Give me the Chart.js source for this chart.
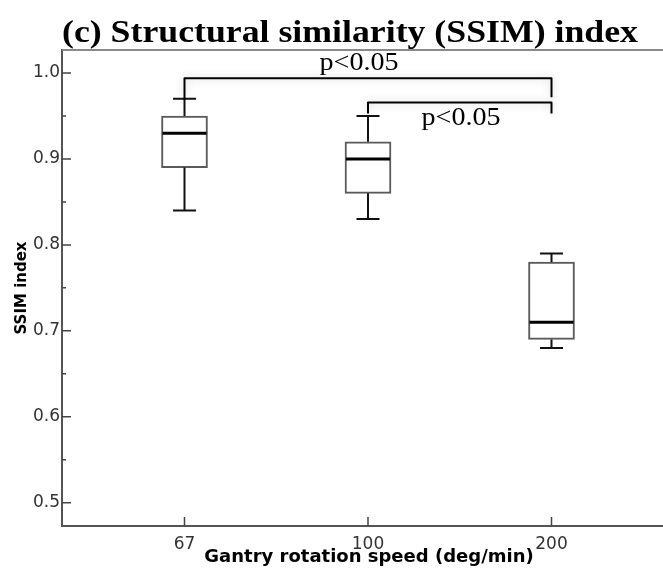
<!DOCTYPE html>
<html><head><meta charset="utf-8">
<script src="https://cdn.jsdelivr.net/npm/chart.js@4.4.1/dist/chart.umd.min.js"></script>
<style>html,body{margin:0;padding:0;background:#fff;overflow:hidden;}#wrap{width:663px;height:570px;overflow:hidden;}</style>
</head><body><div id="wrap"><canvas id="c" width="676" height="570"></canvas></div>
<script>
// ---- data ----
const categories = ['67', '100', '200'];
const whiskerHigh = [0.97, 0.95, 0.79];
const q3 = [0.95, 0.92, 0.78];
const medians = [0.93, 0.90, 0.71];
const q1 = [0.89, 0.86, 0.69];
const whiskerLow = [0.84, 0.83, 0.68];
const yTickValues = [0.5, 0.6, 0.7, 0.8, 0.9, 1.0];
const comparisonFrom = [0, 1];
const comparisonTo = [2, 2];
const comparisonLabels = ['p<0.05', 'p<0.05'];
const titleText = '(c) Structural similarity (SSIM) index';
const xTitle = 'Gantry rotation speed (deg/min)';
const yTitle = 'SSIM index';

// ---- annotation placement (axis units) ----
const bracketLevel = [0.9938, 0.9657];
const bracketDropFrom = [0.969, 0.953];
const bracketDropTo = [0.9717, 0.953];
const labelAtX = [0.951, 1.507];
const labelAtY = [1.0035, 0.9395];

const framePlugin = {
  id: 'frame',
  afterDraw(chart) {
    const {ctx, chartArea: a, scales: {x, y}} = chart;
    ctx.save();
    ctx.strokeStyle = '#8a8a8a'; ctx.lineWidth = 2;
    ctx.beginPath(); ctx.moveTo(a.left, a.top); ctx.lineTo(a.right, a.top); ctx.stroke();
    ctx.strokeStyle = '#444'; ctx.lineWidth = 1.5;
    ctx.beginPath();
    yTickValues.forEach(v => { const p = y.getPixelForValue(v); ctx.moveTo(a.left, p); ctx.lineTo(a.left + 9, p); });
    for (let i = 0; i < yTickValues.length - 1; i++) {
      const p = y.getPixelForValue((yTickValues[i] + yTickValues[i + 1]) / 2);
      ctx.moveTo(a.left, p); ctx.lineTo(a.left + 4, p);
    }
    categories.forEach((c, i) => { const p = x.getPixelForValue(i); ctx.moveTo(p, a.bottom); ctx.lineTo(p, a.bottom - 9); });
    ctx.stroke();
    ctx.fillStyle = '#000';
    ctx.font = 'bold 31px "Liberation Serif"';
    ctx.textBaseline = 'alphabetic'; ctx.textAlign = 'left';
    const w = ctx.measureText(titleText).width;
    const sx = 576 / w;
    ctx.translate(62, 42); ctx.scale(sx, 1);
    ctx.fillText(titleText, 0, 0);
    ctx.restore();
  }
};

const boxPlugin = {
  id: 'boxWhiskers',
  afterDatasetsDraw(chart) {
    const {ctx, scales: {x, y}} = chart;
    ctx.save();
    categories.forEach((c, i) => {
      const cx = x.getPixelForValue(i);
      const cap = 11.5, half = 22;
      ctx.strokeStyle = '#111'; ctx.lineWidth = 2;
      ctx.beginPath();
      ctx.moveTo(cx, y.getPixelForValue(q3[i])); ctx.lineTo(cx, y.getPixelForValue(whiskerHigh[i]));
      ctx.moveTo(cx - cap, y.getPixelForValue(whiskerHigh[i])); ctx.lineTo(cx + cap, y.getPixelForValue(whiskerHigh[i]));
      ctx.moveTo(cx, y.getPixelForValue(q1[i])); ctx.lineTo(cx, y.getPixelForValue(whiskerLow[i]));
      ctx.moveTo(cx - cap, y.getPixelForValue(whiskerLow[i])); ctx.lineTo(cx + cap, y.getPixelForValue(whiskerLow[i]));
      ctx.stroke();
      ctx.lineWidth = 3; ctx.strokeStyle = '#000';
      ctx.beginPath();
      ctx.moveTo(cx - half, y.getPixelForValue(medians[i])); ctx.lineTo(cx + half, y.getPixelForValue(medians[i]));
      ctx.stroke();
    });
    ctx.restore();
  }
};

const bracketPlugin = {
  id: 'brackets',
  afterDraw(chart) {
    const {ctx, scales: {x, y}} = chart;
    ctx.save();
    comparisonFrom.forEach((f, k) => {
      const x1 = x.getPixelForValue(f), x2 = x.getPixelForValue(comparisonTo[k]);
      const yl = y.getPixelForValue(bracketLevel[k]);
      ctx.shadowColor = 'rgba(0,0,0,0.22)'; ctx.shadowBlur = 8;
      ctx.strokeStyle = '#000'; ctx.lineWidth = 2; ctx.lineJoin = 'round';
      ctx.beginPath();
      ctx.moveTo(x1, y.getPixelForValue(bracketDropFrom[k]));
      ctx.lineTo(x1, yl); ctx.lineTo(x2, yl);
      ctx.lineTo(x2, y.getPixelForValue(bracketDropTo[k]));
      ctx.stroke();
      ctx.shadowColor = 'transparent'; ctx.shadowBlur = 0;
      ctx.save();
      ctx.fillStyle = '#000';
      ctx.font = '26px "Liberation Serif"';
      ctx.textAlign = 'center'; ctx.textBaseline = 'alphabetic';
      const w = ctx.measureText(comparisonLabels[k]).width;
      ctx.translate(x.getPixelForValue(labelAtX[k]), y.getPixelForValue(labelAtY[k]));
      ctx.scale(79 / w, 1);
      ctx.fillText(comparisonLabels[k], 0, 0);
      ctx.restore();
    });
    ctx.restore();
  }
};

new Chart(document.getElementById('c'), {
  type: 'bar',
  data: {
    datasets: [{
      data: categories.map((c, i) => ({x: i, y: [q1[i], q3[i]]})),
      backgroundColor: '#ffffff',
      borderColor: '#5a5a5a',
      borderWidth: 2,
      borderSkipped: false,
      barThickness: 46
    }]
  },
  options: {
    responsive: false,
    animation: false,
    devicePixelRatio: 1,
    layout: {padding: {top: 50, left: 0, right: 0, bottom: 0}},
    plugins: {legend: {display: false}, tooltip: {enabled: false}, title: {display: false}},
    scales: {
      x: {
        type: 'linear', min: -0.6676, max: 2.6785, offset: false, bounds: 'ticks',
        grid: {display: false, drawTicks: false, offset: false},
        border: {display: true, color: '#555', width: 2},
        afterBuildTicks: s => { s.ticks = categories.map((c, i) => ({value: i})); },
        afterFit: s => { s.height = 44; },
        ticks: {autoSkip: false, maxRotation: 0, padding: 8, color: '#333',
          font: {family: 'DejaVu Sans', size: 17},
          callback: v => categories[Math.round(v)]},
        title: {display: true, text: xTitle, color: '#000',
          font: {family: 'DejaVu Sans', weight: 'bold', size: 18}, padding: {top: 0, bottom: 2}}
      },
      y: {
        min: 0.4729, max: 1.0268,
        grid: {display: false, drawTicks: false},
        border: {display: true, color: '#555', width: 2},
        afterBuildTicks: s => { s.ticks = yTickValues.map(v => ({value: v})); },
        afterFit: s => { s.width = 62; },
        ticks: {autoSkip: false, padding: 2, color: '#333',
          font: {family: 'DejaVu Sans', size: 17},
          callback: v => Number(v).toFixed(1)},
        title: {display: true, text: yTitle, color: '#000',
          font: {family: 'DejaVu Sans', weight: 'bold', size: 15}, padding: {top: 13, bottom: 0}}
      }
    }
  },
  plugins: [boxPlugin, framePlugin, bracketPlugin]
});
</script></body></html>
